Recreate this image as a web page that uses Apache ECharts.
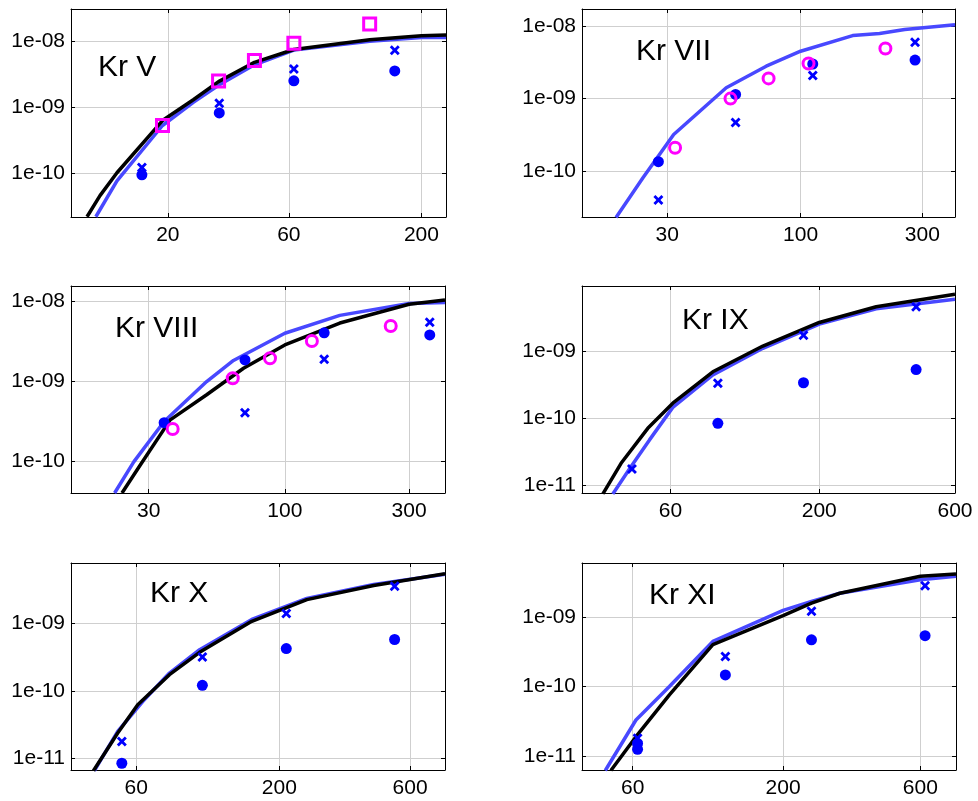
<!DOCTYPE html>
<html>
<head>
<meta charset="utf-8">
<script src="https://cdn.jsdelivr.net/npm/echarts@6/dist/echarts.min.js"></script>
<style>
html, body { margin: 0; padding: 0; background: #fff; }
#chart1 { width: 978px; height: 801px; }
</style>
</head>
<body>
<div id="chart1"></div>
<script>
// tick labels
const xTicks_V = [20, 60, 200];
const xTicks_VII = [30, 100, 300];
const xTicks_VIII = [30, 100, 300];
const xTicks_IX = [60, 200, 600];
const xTicks_X = [60, 200, 600];
const xTicks_XI = [60, 200, 600];
const yTicks_upper = [1e-10, 1e-9, 1e-8];
const yTicks_lower = [1e-11, 1e-10, 1e-9];

// Kr V
const krV_blue = [[10.4, 2.2e-11], [12.6, 7.7e-11], [19.05, 5.3e-10], [25.2, 1.19e-9], [31.7, 2.16e-9], [43.9, 4.4e-9], [62.8, 7.35e-9], [125, 1.0e-8], [200, 1.14e-8], [250, 1.14e-8]];
const krV_black = [[9.6, 2.2e-11], [10.8, 4.6e-11], [12.6, 1.02e-10], [19.05, 6.3e-10], [25.2, 1.3e-9], [31.7, 2.45e-9], [43.9, 4.8e-9], [62.8, 7.5e-9], [125, 1.05e-8], [200, 1.21e-8], [250, 1.24e-8]];
const krV_square = [[19.05, 5.3e-10], [31.7, 2.5e-9], [43.9, 5.1e-9], [62.8, 9.3e-9], [125, 1.83e-8]];
const krV_star = [[15.8, 9.5e-11], [31.9, 8.2e-10], [62.8, 2.52e-9], [157, 3.56e-9]];
const krV_cross = [[15.8, 1.22e-10], [31.9, 1.15e-9], [62.8, 3.8e-9], [157, 7.3e-9]];

// Kr VII
const krVII_blue = [[18.9, 2.3e-11], [24.1, 8.1e-11], [31.8, 3.2e-10], [51.1, 1.41e-9], [73.3, 2.8e-9], [100, 4.5e-9], [160, 7.4e-9], [204, 7.9e-9], [256, 9.0e-9], [403, 1.04e-8]];
const krVII_circle = [[32.2, 2.1e-10], [53.1, 1.0e-9], [74.9, 1.9e-9], [107.4, 3.05e-9], [215, 4.9e-9]];
const krVII_star = [[27.7, 1.35e-10], [55.6, 1.14e-9], [111.6, 3.0e-9], [281, 3.4e-9]];
const krVII_cross = [[27.7, 4.0e-11], [55.6, 4.7e-10], [111.6, 2.09e-9], [281, 6.0e-9]];

// Kr VIII
const krVIII_blue = [[22.2, 3.95e-11], [26.3, 9.7e-11], [34.4, 3.1e-10], [50.1, 9.8e-10], [63.5, 1.8e-9], [100, 3.95e-9], [162.6, 6.6e-9], [300, 9.3e-9], [412, 9.6e-9]];
const krVIII_black = [[23.7, 3.95e-11], [27.9, 8.9e-11], [36.3, 3.25e-10], [50.1, 6.7e-10], [69.4, 1.44e-9], [100, 2.82e-9], [162.6, 5.3e-9], [300, 9.1e-9], [412, 1.03e-8]];
const krVIII_circle = [[37.1, 2.5e-10], [63.1, 1.08e-9], [87.7, 1.92e-9], [127, 3.16e-9], [255, 4.87e-9]];
const krVIII_star = [[34.4, 3.0e-10], [70.3, 1.83e-9], [141.6, 4.0e-9], [360, 3.76e-9]];
const krVIII_cross = [[70.3, 4.0e-10], [141.6, 1.87e-9], [360, 5.4e-9]];

// Kr IX
const krIX_blue = [[37.6, 7.3e-12], [43.6, 1.88e-11], [50.6, 4.7e-11], [61.1, 1.44e-10], [84.5, 4.4e-10], [126.7, 1.1e-9], [200, 2.53e-9], [317, 4.3e-9], [600, 5.97e-9]];
const krIX_black = [[34.7, 7.3e-12], [40.2, 2.1e-11], [49.9, 7.0e-11], [61.1, 1.66e-10], [84.5, 4.9e-10], [126.7, 1.19e-9], [200, 2.68e-9], [317, 4.6e-9], [600, 7.1e-9]];
const krIX_star = [[88, 8.3e-11], [176, 3.36e-10], [438, 5.3e-10]];
const krIX_cross = [[43.9, 1.73e-11], [88, 3.3e-10], [176, 1.73e-9], [438, 4.6e-9]];

// Kr X
const krX_blue = [[42.2, 6.5e-12], [51.4, 2.5e-11], [63.5, 7.0e-11], [79.4, 1.84e-10], [102.3, 4.1e-10], [158.6, 1.15e-9], [252, 2.36e-9], [442, 3.8e-9], [805, 5.4e-9]];
const krX_black = [[41.9, 6.5e-12], [51.4, 2.36e-11], [60.8, 6.2e-11], [79.4, 1.74e-10], [102.3, 3.74e-10], [158.6, 1.08e-9], [252, 2.27e-9], [442, 3.68e-9], [805, 5.5e-9]];
const krX_star = [[53.2, 8.4e-12], [104.7, 1.21e-10], [212, 4.25e-10], [527, 5.8e-10]];
const krX_cross = [[53.2, 1.77e-11], [104.7, 3.2e-10], [212, 1.41e-9], [527, 3.6e-9]];

// Kr XI
const krXI_blue = [[48.2, 6.2e-12], [61.6, 3.3e-11], [80.5, 1.0e-10], [114, 4.46e-10], [200, 1.25e-9], [251, 1.68e-9], [315, 2.2e-9], [600, 3.45e-9], [798, 3.86e-9]];
const krXI_black = [[50.4, 6.2e-12], [61.6, 1.9e-11], [80.5, 7.6e-11], [114, 4.0e-10], [200, 1.05e-9], [251, 1.59e-9], [315, 2.2e-9], [600, 3.86e-9], [798, 4.17e-9]];
const krXI_star = [[62.4, 1.52e-11], [62.4, 1.25e-11], [126, 1.47e-10], [251, 4.7e-10], [623, 5.4e-10]];
const krXI_cross = [[62.4, 1.8e-11], [126, 2.7e-10], [251, 1.21e-9], [623, 2.83e-9]];

// layout of the six panels
const panels = [
    { name: 'Kr V', grid: [71, 9, 375, 208], text: [98, 53], xr: [8.3, 250], yr: [2.18e-11, 3.08e-8],
      xTicks: xTicks_V, yTicks: yTicks_upper, blue: krV_blue, black: krV_black, square: krV_square, star: krV_star, cross: krV_cross },
    { name: 'Kr VII', grid: [582, 9, 373, 208], text: [636, 37], xr: [13.9, 403], yr: [2.33e-11, 1.72e-8],
      xTicks: xTicks_VII, yTicks: yTicks_upper, blue: krVII_blue, circle: krVII_circle, star: krVII_star, cross: krVII_cross },
    { name: 'Kr VIII', grid: [71, 286, 374, 207], text: [115, 314], xr: [15.1, 412], yr: [3.95e-11, 1.54e-8],
      xTicks: xTicks_VIII, yTicks: yTicks_upper, blue: krVIII_blue, black: krVIII_black, circle: krVIII_circle, star: krVIII_star, cross: krVIII_cross },
    { name: 'Kr IX', grid: [582, 286, 373, 207], text: [682, 306], xr: [29.3, 600], yr: [7.55e-12, 9.4e-9],
      xTicks: xTicks_IX, yTicks: yTicks_lower, blue: krIX_blue, black: krIX_black, star: krIX_star, cross: krIX_cross },
    { name: 'Kr X', grid: [71, 563, 374, 207], text: [150, 579], xr: [34.7, 805], yr: [6.67e-12, 7.95e-9],
      xTicks: xTicks_X, yTicks: yTicks_lower, blue: krX_blue, black: krX_black, star: krX_star, cross: krX_cross },
    { name: 'Kr XI', grid: [582, 563, 374, 207], text: [649, 581], xr: [40, 798], yr: [6.3e-12, 6.0e-9],
      xTicks: xTicks_XI, yTicks: yTicks_lower, blue: krXI_blue, black: krXI_black, star: krXI_star, cross: krXI_cross }
];

const FONT = 'Liberation Sans';
const crossPath = 'path://M0,2L2,0L5,3L8,0L10,2L7,5L10,8L8,10L5,7L2,10L0,8L3,5Z';

function yLabel(v) {
    let e = Math.round(Math.log10(v));
    return '1e-' + (e > -10 ? '0' : '') + (-e);
}

let grids = [], xAxes = [], yAxes = [], titles = [], series = [];

panels.forEach(function (p, i) {
    grids.push({ left: p.grid[0], top: p.grid[1], width: p.grid[2], height: p.grid[3] });
    titles.push({
        text: p.name, left: p.text[0], top: p.text[1], padding: 0,
        textStyle: { fontSize: 30, fontWeight: 'normal', color: '#000', fontFamily: FONT }
    });

    // bottom + top x axes
    ['bottom', 'top'].forEach(function (pos) {
        let main = pos === 'bottom';
        xAxes.push({
            type: 'log', gridIndex: i, position: pos, min: p.xr[0], max: p.xr[1],
            axisLine: { show: true, onZero: false, lineStyle: { color: '#000', width: 1 } },
            axisTick: { show: true, inside: true, length: 4, customValues: p.xTicks, lineStyle: { color: '#000' } },
            axisLabel: {
                show: main, customValues: p.xTicks, margin: 8, color: '#000', fontSize: 21, fontFamily: FONT,
                formatter: function (v) { return String(Math.round(v)); }
            },
            splitLine: { show: main, lineStyle: { color: '#cfcfcf', width: 1 } },
            minorTick: { show: false }
        });
    });
    // left + right y axes
    ['left', 'right'].forEach(function (pos) {
        let main = pos === 'left';
        yAxes.push({
            type: 'log', gridIndex: i, position: pos, min: p.yr[0], max: p.yr[1],
            axisLine: { show: true, onZero: false, lineStyle: { color: '#000', width: 1 } },
            axisTick: { show: true, inside: true, length: 4, customValues: p.yTicks, lineStyle: { color: '#000' } },
            axisLabel: {
                show: main, customValues: p.yTicks, margin: 6, color: '#000', fontSize: 21, fontFamily: FONT,
                formatter: yLabel
            },
            splitLine: { show: main, lineStyle: { color: '#cfcfcf', width: 1 } }
        });
    });

    let ax = { xAxisIndex: 2 * i, yAxisIndex: 2 * i };
    if (p.blue) {
        series.push(Object.assign({
            type: 'line', data: p.blue, symbol: 'none', clip: true, z: 2,
            lineStyle: { color: '#4848ff', width: 3.5 }
        }, ax));
    }
    if (p.black) {
        series.push(Object.assign({
            type: 'line', data: p.black, symbol: 'none', clip: true, z: 3,
            lineStyle: { color: '#000', width: 3.5 }
        }, ax));
    }
    if (p.star) {
        series.push(Object.assign({
            type: 'scatter', data: p.star, symbol: 'circle', symbolSize: 11, z: 4,
            itemStyle: { color: '#0000ff', opacity: 1 }
        }, ax));
    }
    if (p.cross) {
        series.push(Object.assign({
            type: 'scatter', data: p.cross, symbol: crossPath, symbolSize: 10, z: 4,
            itemStyle: { color: '#0000ff', opacity: 1 }
        }, ax));
    }
    if (p.square) {
        series.push(Object.assign({
            type: 'scatter', data: p.square, symbol: 'rect', symbolSize: 12, z: 5,
            itemStyle: { color: 'rgba(0,0,0,0)', borderColor: '#ff00ff', borderWidth: 3, opacity: 1 }
        }, ax));
    }
    if (p.circle) {
        series.push(Object.assign({
            type: 'scatter', data: p.circle, symbol: 'circle', symbolSize: 11, z: 5,
            itemStyle: { color: 'rgba(0,0,0,0)', borderColor: '#ff00ff', borderWidth: 3, opacity: 1 }
        }, ax));
    }
});

let dom1 = document.getElementById('chart1');
let Chart1 = echarts.init(dom1);
let option1 = {
    animation: false,
    backgroundColor: '#fff',
    title: titles,
    grid: grids,
    xAxis: xAxes,
    yAxis: yAxes,
    series: series
};
Chart1.setOption(option1);
</script>
</body>
</html>
